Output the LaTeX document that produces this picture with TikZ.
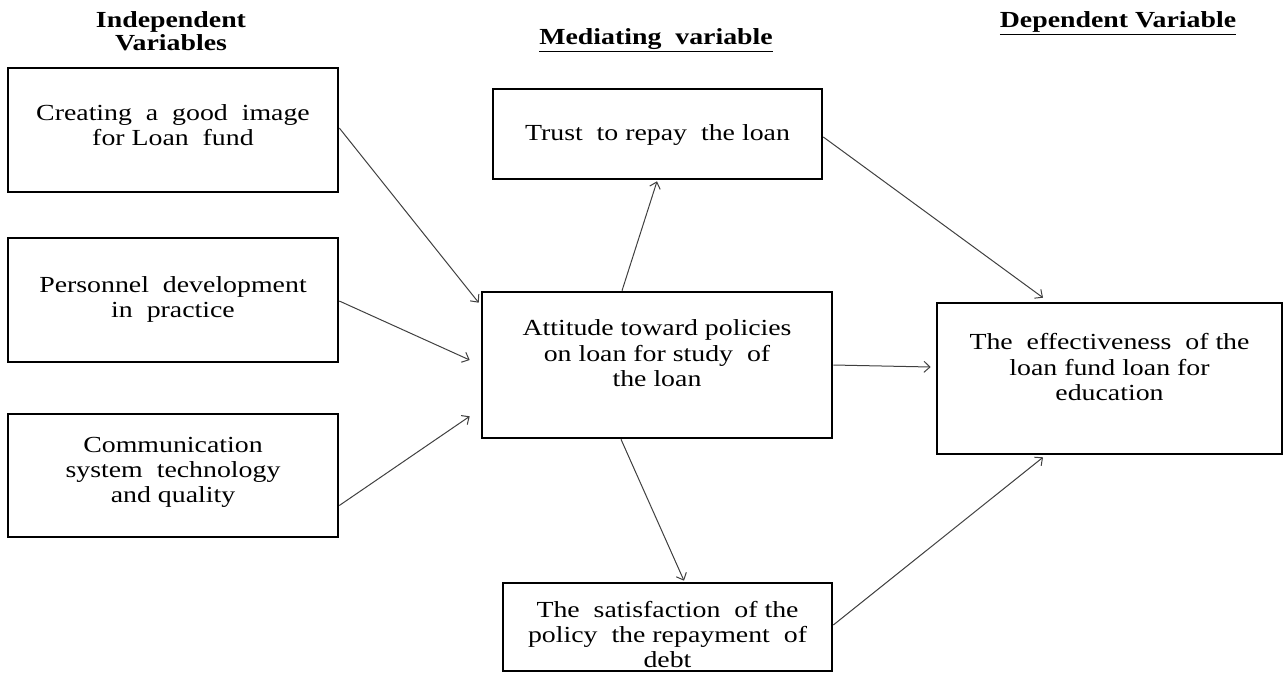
\documentclass[tikz,border=0pt]{standalone}
\usepackage{fontspec}
\usepackage{graphicx}
\setmainfont{Liberation Serif}
\usetikzlibrary{arrows.meta,calc}
\newcommand{\stb}[1]{\scalebox{1.21}[1]{\begin{tabular}{@{}c@{}}#1\end{tabular}}}
\begin{document}
\begin{tikzpicture}[x=1pt,y=-1pt,
  box/.style={draw=black,line width=2.6pt,inner sep=0pt},
  txt/.style={align=center,inner sep=0pt,font=\fontsize{23}{25.3}\selectfont},
  hdr/.style={align=center,inner sep=0pt,font=\fontsize{23}{23}\selectfont\bfseries},
  conn/.style={draw=black!75,line width=1pt,-{Straight Barb[length=6pt,width=11pt]}}]
\useasboundingbox (0,0) rectangle (1284,673);
% headers
\node[hdr] (h1) at (171,34.5) {\stb{Independent\\Variables}};
\node[hdr] (h2) at (656,40) {\stb{\underline{Mediating\ \ variable}}};
\node[hdr] (h3) at (1118,23) {\stb{\underline{Dependent\ Variable}}};
% boxes
\node[box,minimum width=330pt,minimum height=124pt,
  label={[txt,yshift=2pt]center:\stb{Creating\ \ a\ \ good\ \ image\\for\ Loan\ \ fund}}] (b1) at (173,130) {};
\node[box,minimum width=330pt,minimum height=124pt,
  label={[txt,yshift=0pt]center:\stb{Personnel\ \ development\\in\ \ practice}}] (b2) at (173,300) {};
\node[box,minimum width=330pt,minimum height=123pt,
  label={[txt,yshift=3pt]center:\stb{Communication\\system\ \ technology\\and\ quality}}] (b3) at (173,475.5) {};
\node[box,minimum width=329pt,minimum height=90pt,
  label={[txt,yshift=-1.5pt]center:\stb{Trust\ \ to\ repay\ \ the\ loan}}] (tr) at (657.5,134) {};
\node[box,minimum width=350pt,minimum height=146pt,
  label={[txt,yshift=9pt]center:\stb{Attitude\ toward\ policies\\on\ loan\ for\ study\ \ of\\the\ loan}}] (att) at (657,365) {};
\node[box,minimum width=329pt,minimum height=88pt,
  label={[txt,yshift=-10.5pt]center:\stb{The\ \ satisfaction\ \ of\ the\\policy\ \ the\ repayment\ \ of\\debt}}] (sat) at (667.5,627) {};
\node[box,minimum width=345pt,minimum height=151pt,
  label={[txt,yshift=8.5pt]center:\stb{The\ \ effectiveness\ \ of\ the\\loan\ fund\ loan\ for\\education}}] (dep) at (1109.5,378.5) {};
% connectors
\draw[conn] ([yshift=2pt]b1.east) -- ([xshift=-2pt,yshift=-12pt]att.north west);
\draw[conn] ([yshift=-1pt]b2.east) -- ([xshift=-11pt,yshift=5pt]att.west);
\draw[conn] ([yshift=-30pt]b3.east) -- ([xshift=-11pt,yshift=23pt]att.south west);
\draw[conn] ([xshift=-35pt]att.north) -- ([xshift=-0.5pt,yshift=-1pt]tr.south);
\draw[conn] ([xshift=-36pt]att.south) -- ([xshift=16.5pt,yshift=1pt]sat.north);
\draw[conn] (att.east) -- ([xshift=-5pt,yshift=11.5pt]dep.west);
\draw[conn] ([yshift=-3pt]tr.east) -- ([xshift=-66.5pt,yshift=4pt]dep.north);
\draw[conn] ([yshift=2pt]sat.east) -- ([xshift=-66.5pt,yshift=-2pt]dep.south);
\end{tikzpicture}
\end{document}
